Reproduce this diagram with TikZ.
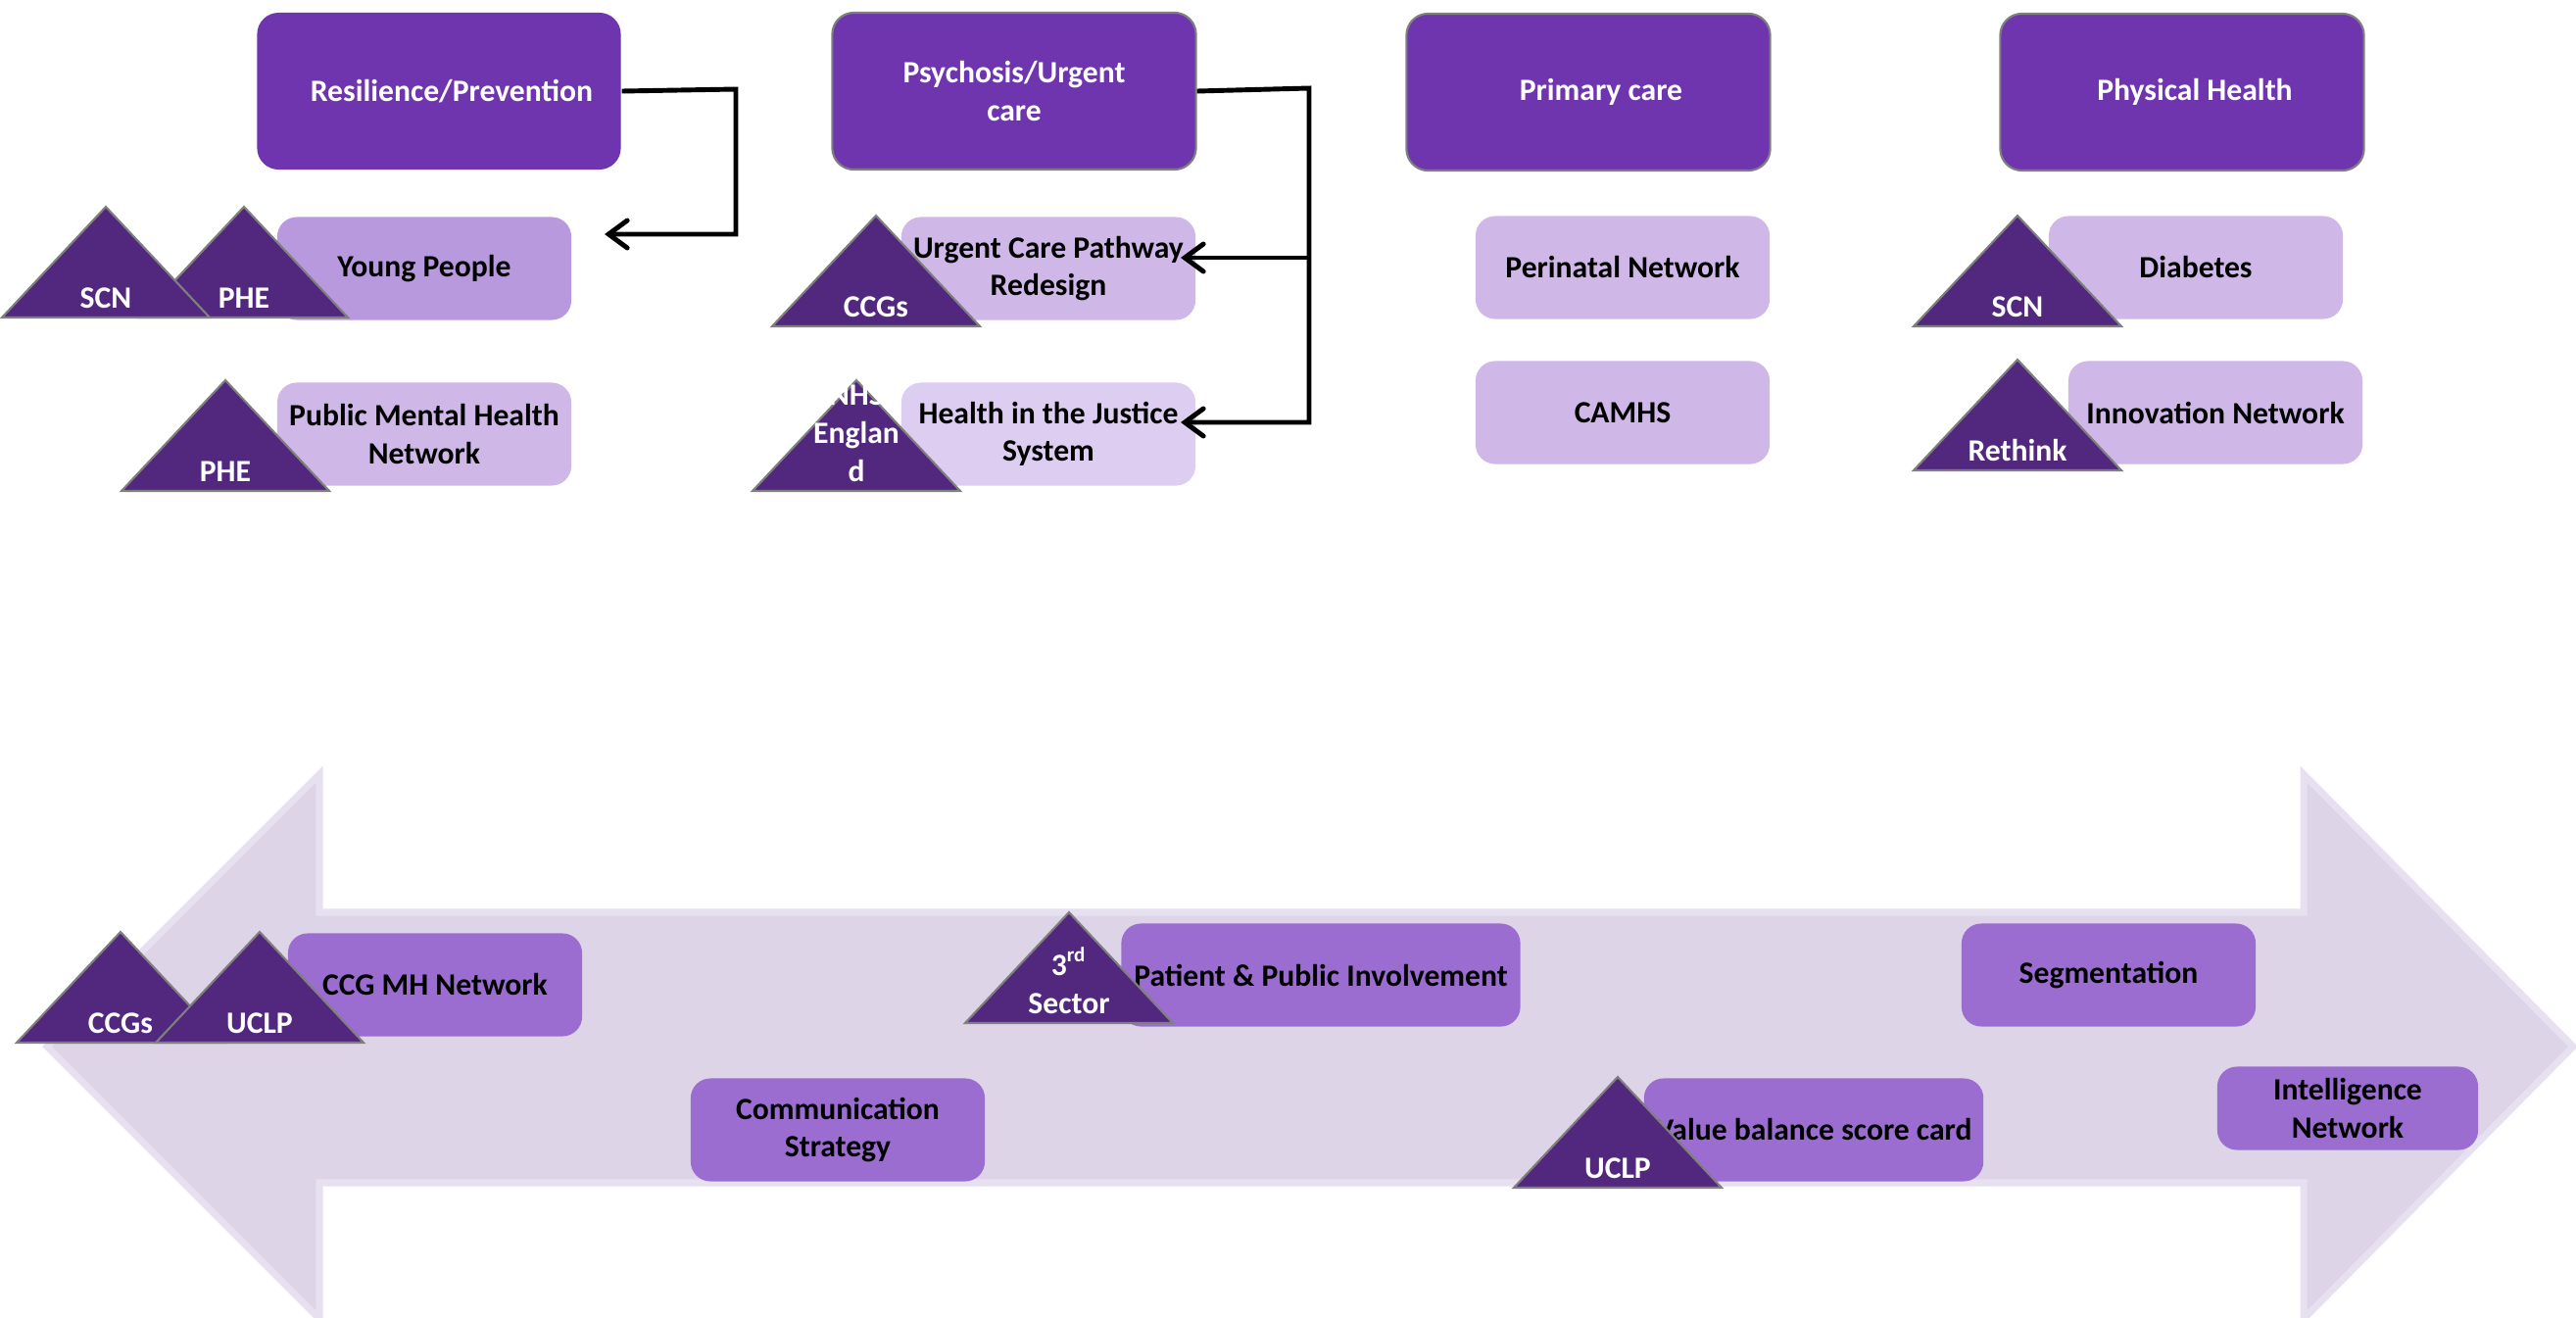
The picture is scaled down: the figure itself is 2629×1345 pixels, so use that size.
\documentclass[tikz,border=0pt]{standalone}
\usepackage{fontspec}
\setmainfont{Carlito}
\usetikzlibrary{arrows.meta}
\definecolor{headpurple}{HTML}{6F35AE}
\definecolor{tripurple}{HTML}{52287F}
\definecolor{itemlight}{HTML}{CFB8E8}
\definecolor{youngfill}{HTML}{B899DE}
\definecolor{justicefill}{HTML}{DDCDF0}
\definecolor{bandpurple}{HTML}{9B6DD0}
\definecolor{arrowfill}{HTML}{DDD5E7}
\definecolor{arrowedge}{HTML}{E6E0F0}
\definecolor{edgegray}{HTML}{7F7F7F}
\tikzset{
  headbox/.style={draw=edgegray,line width=0.6pt,fill=headpurple,rounded corners=0.22cm,
    minimum width=3.71cm,minimum height=1.6cm,text=white,align=center},
  itembox/.style={fill=itemlight,rounded corners=0.2cm,minimum width=3cm,
    minimum height=1.05cm,align=center},
  bandbox/.style={itembox,fill=bandpurple},
  tribox/.style={draw=edgegray,line width=0.6pt,fill=tripurple},
  trilabel/.style={text=white,align=center,inner sep=0pt,anchor=south},
  link/.style={line width=1.4pt},
  linkarrow/.style={link,-{Straight Barb[length=1.9mm,width=2.8mm,line cap=round]}}
}
% partner triangle: name, apex x, base y, label
\newcommand{\partnertri}[4]{%
  \draw[tribox] (#2-106,#3) -- (#2,#3-113) -- (#2+106,#3) -- cycle;
  \node[trilabel] (#1) at (#2,#3-9) {#4};
}
\newcommand{\headpad}{\hspace*{0.26cm}}
\begin{document}
\begin{tikzpicture}[x=0.01cm,y=-0.01cm,font=\fontsize{9}{11}\selectfont\bfseries]
  \useasboundingbox (0,0) rectangle (2629,1345);

  % the long two-way arrow
  \path[fill=arrowfill,draw=arrowedge,line width=2pt]
    (48,1068) -- (326,790) -- (326,931) -- (2351,931) -- (2351,790) -- (2626,1068)
    -- (2351,1346) -- (2351,1207) -- (326,1207) -- (326,1346) -- cycle;

  % work streams
  \node[headbox,draw=none] (res) at (448,93) {\headpad Resilience/Prevention};
  \node[headbox] (psy) at (1035,93) {Psychosis/Urgent\\care};
  \node[headbox] (prim) at (1621,94) {\headpad Primary care};
  \node[headbox] (phys) at (2227,94) {\headpad Physical Health};

  \node[itembox,fill=youngfill] (young) at (433,274) {Young People};
  \node[itembox] (pmh) at (433,443) {Public Mental Health\\Network};
  \node[itembox] (ucp) at (1070,274) {Urgent Care Pathway\\Redesign};
  \node[itembox,fill=justicefill] (hjs) at (1070,443) {Health in the Justice\\System};
  \node[itembox] (peri) at (1656,273) {Perinatal Network};
  \node[itembox] (camhs) at (1656,421) {CAMHS};
  \node[itembox] (diab) at (2241,273) {Diabetes};
  \node[itembox] (innov) at (2261,421) {Innovation Network};

  % cross-cutting enablers
  \node[bandbox] (ccgmh) at (444,1005) {CCG MH Network};
  \node[bandbox] (comm) at (855,1153) {Communication\\Strategy};
  \node[bandbox,minimum width=4.07cm] (ppi) at (1348,995) {Patient \& Public Involvement};
  \node[bandbox] (seg) at (2152,995) {Segmentation};
  \node[bandbox,minimum width=3.37cm] (vbsc) at (1851,1153) {Value balance score card};
  \node[bandbox,minimum width=2.66cm,minimum height=0.85cm] (intel) at (2396,1131) {Intelligence\\Network};

  % partners
  \partnertri{phe1}{249}{324}{PHE}
  \partnertri{scn1}{108}{324}{SCN}
  \partnertri{phe2}{230}{501}{PHE}
  \partnertri{ccgs1}{894}{333}{CCGs}
  \partnertri{nhse}{874}{501}{NHS\\Englan\\d}
  \partnertri{scn2}{2059}{333}{SCN}
  \partnertri{rethink}{2059}{480}{Rethink}
  \partnertri{ccgs2}{123}{1064}{CCGs}
  \partnertri{uclp1}{265}{1064}{UCLP}
  \partnertri{third}{1091}{1044}{3\textsuperscript{rd}\\Sector}
  \partnertri{uclp2}{1651}{1212}{UCLP}

  % links
  \coordinate (res turn) at (751,91);
  \coordinate (young tip) at (617,239);
  \draw[linkarrow] (res.east) -- (res turn) |- (young tip);
  \coordinate (psy turn) at (1336,90);
  \coordinate (ucp tip) at (1205,263);
  \coordinate (hjs tip) at (1205,431);
  \draw[linkarrow] (psy.east) -- (psy turn) |- (hjs tip);
  \draw[linkarrow] (psy turn |- ucp tip) -- (ucp tip);
\end{tikzpicture}
\end{document}
